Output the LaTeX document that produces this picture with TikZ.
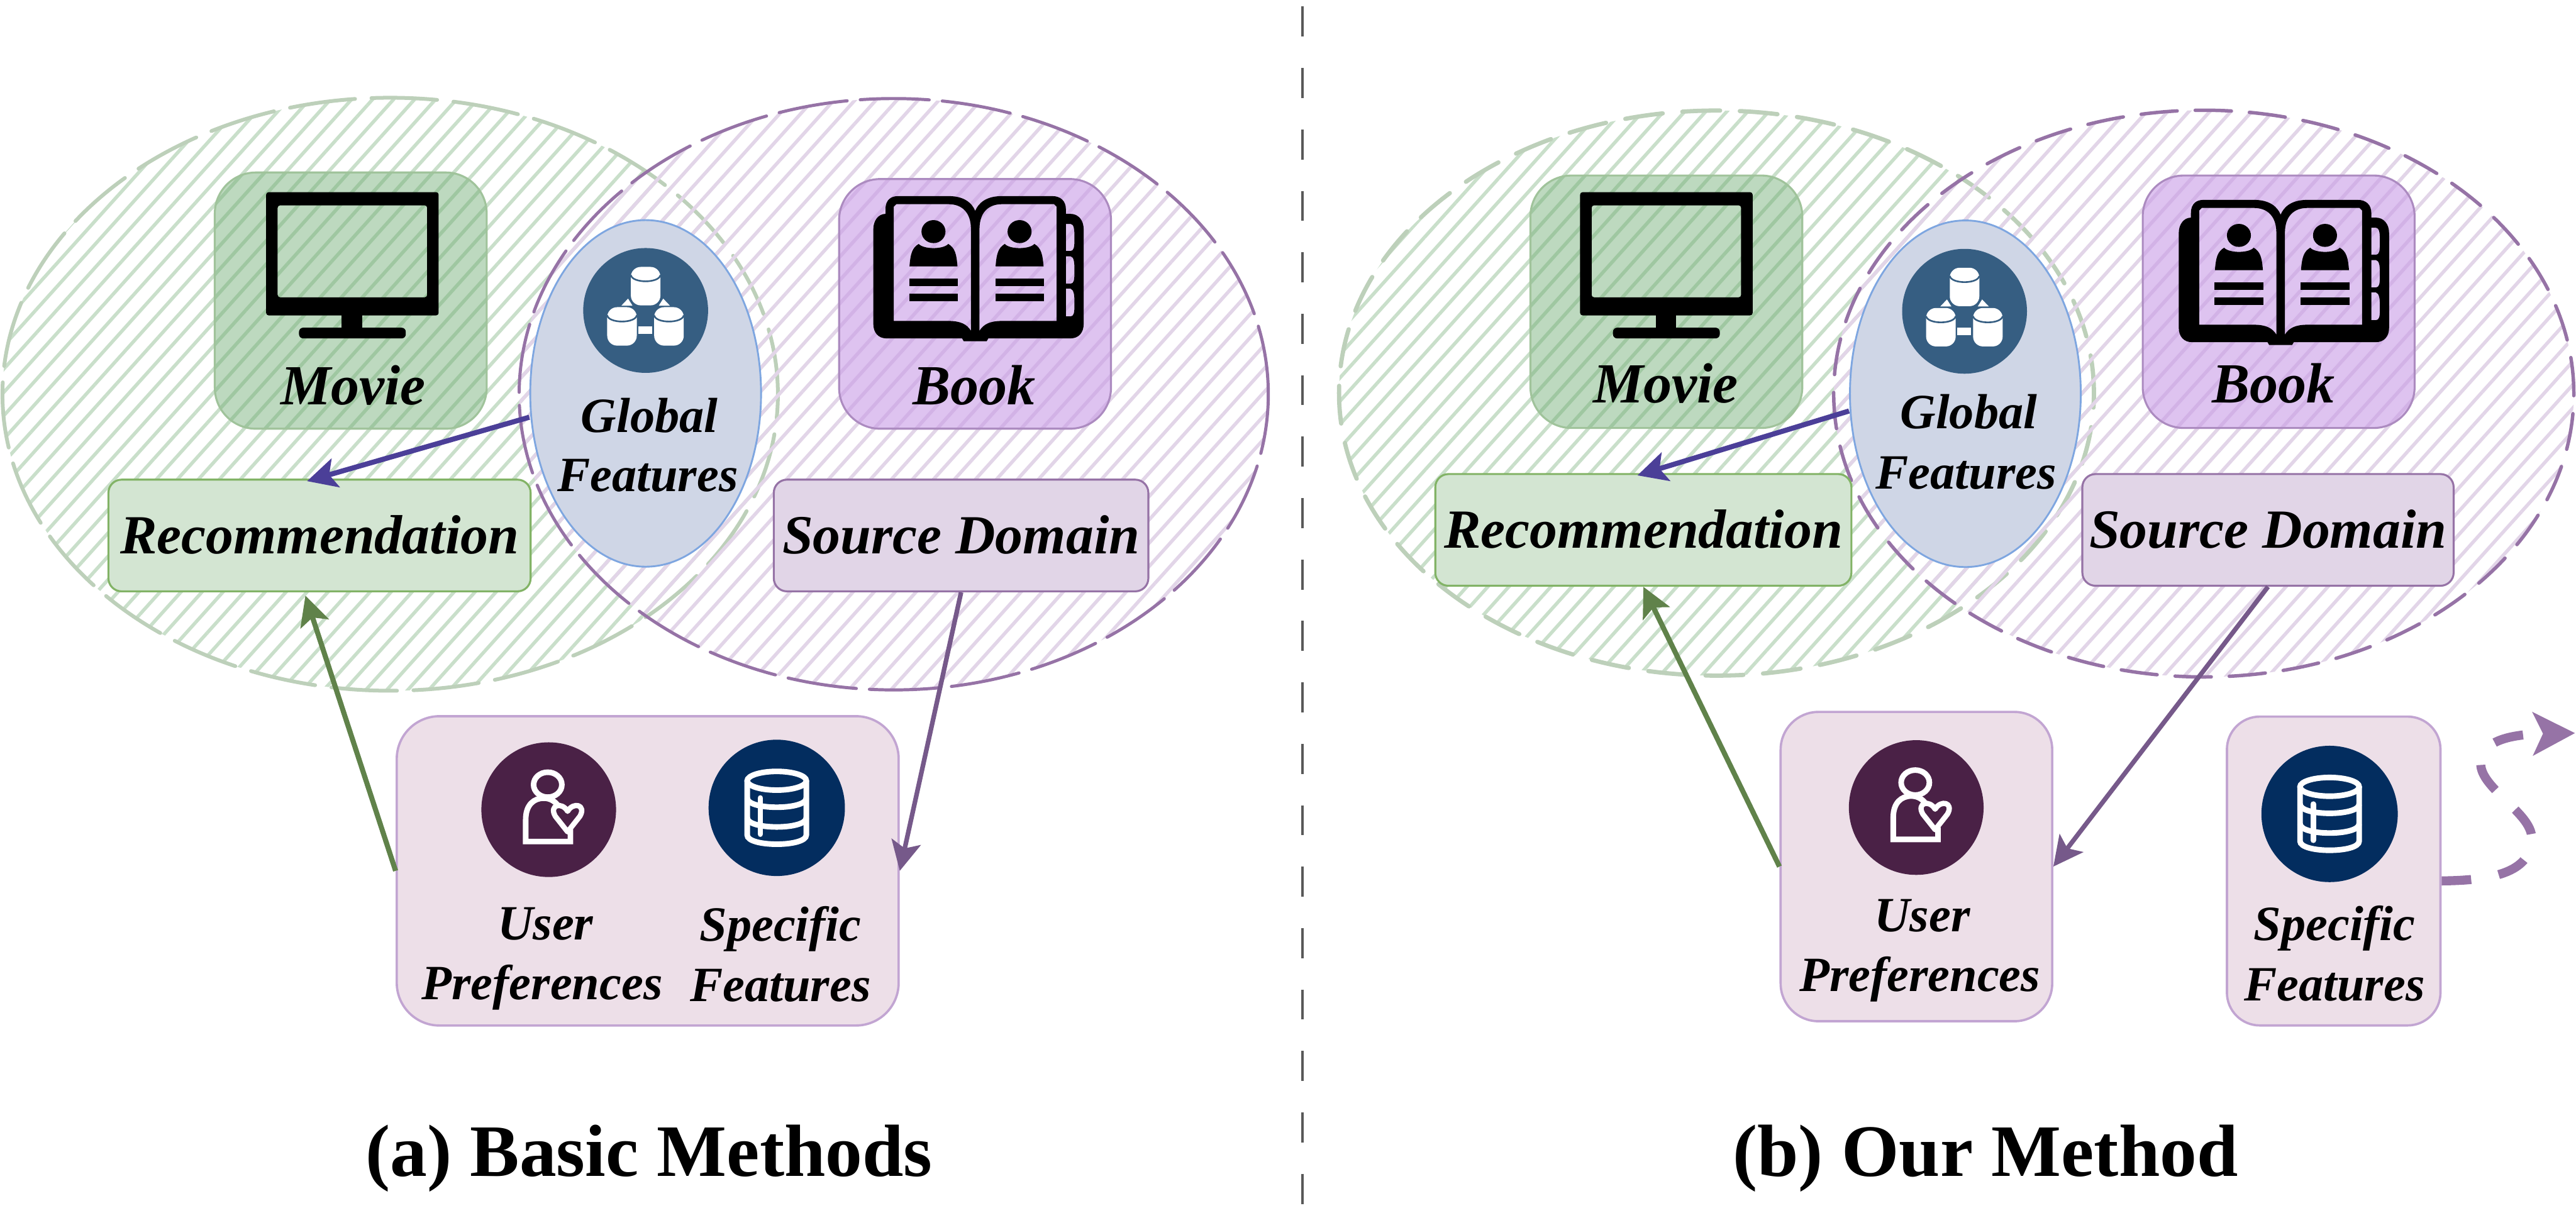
\documentclass[tikz,border=0pt]{standalone}
\usepackage{fontspec}
\setmainfont{Liberation Serif}
\usetikzlibrary{arrows.meta,patterns.meta,shapes.geometric}

\definecolor{hatchgreen}{HTML}{C9DFCA}
\definecolor{hatchpurple}{HTML}{E2D5E8}
\definecolor{edgegreen}{HTML}{BDD0BA}
\definecolor{edgepurple}{HTML}{9673A6}
\definecolor{arrowblue}{HTML}{4B3F98}
\definecolor{arrowgreen}{HTML}{60824A}
\definecolor{arrowpurple}{HTML}{76598A}
\definecolor{iconglobal}{HTML}{365E82}
\definecolor{iconuser}{HTML}{4A2146}
\definecolor{icondata}{HTML}{032D5F}
\definecolor{featedge}{HTML}{C2A5D2}
\definecolor{featfill}{HTML}{EDDFE8}
\definecolor{globaledge}{HTML}{7EA6E0}
\definecolor{globalfill}{HTML}{CFD6E6}
\definecolor{moviefill}{RGB}{109,171,113}
\definecolor{movieedge}{RGB}{160,195,155}
\definecolor{bookfill}{RGB}{200,155,230}
\definecolor{bookedge}{RGB}{172,139,192}
\definecolor{recfill}{RGB}{211,229,210}
\definecolor{recedge}{RGB}{130,179,102}
\definecolor{sourcefill}{RGB}{225,213,231}

\tikzset{
	domainlines/.style={ellipse, inner sep=0pt, line cap=round, pattern={Lines[angle=48,distance=9.5pt,line width=2.1pt]}},
	greenarea/.style={domainlines, pattern color=hatchgreen, draw=edgegreen},
	purplearea/.style={domainlines, pattern color=hatchpurple, draw=edgepurple},
	moviebox/.style={rectangle, rounded corners=25pt, inner sep=0pt, minimum width=165.5pt, fill=moviefill, fill opacity=0.45, draw=movieedge, line width=1.2pt},
	bookbox/.style={rectangle, rounded corners=25pt, inner sep=0pt, minimum width=165.5pt, fill=bookfill, fill opacity=0.6, draw=bookedge, line width=1.2pt},
	wordbox/.style={rectangle, rounded corners=8pt, inner sep=0pt, minimum height=68pt, line width=1.2pt, font=\fontsize{33.6}{40}\selectfont\bfseries\itshape, text height=22pt, text depth=0pt},
	recbox/.style={wordbox, draw=recedge, fill=recfill},
	sourcebox/.style={wordbox, draw=edgepurple, fill=sourcefill},
	featbox/.style={rectangle, inner sep=0pt, draw=featedge, fill=featfill, line width=1.4pt},
	globalbubble/.style={ellipse, inner sep=0pt, minimum width=140.5pt, minimum height=211pt, draw=globaledge, fill=globalfill, line width=1.1pt},
	tiletext/.style={anchor=base, inner sep=0pt, font=\fontsize{34.5}{40}\selectfont\bfseries\itshape},
	smalltext/.style={anchor=base, inner sep=0pt, font=\fontsize{30}{36}\selectfont\bfseries\itshape},
	captiontext/.style={anchor=base, inner sep=0pt, font=\fontsize{45}{54}\selectfont\bfseries},
	flowline/.style={-{Stealth[length=18pt,width=18pt,inset=4pt]}, line width=3.1pt},
	monitoricon/.pic={
		\fill[even odd rule] [rounded corners=1.5pt] (0,0) rectangle (105,75) (7,8) rectangle (98,64);
		\fill (46,74) rectangle (58.5,84);
		\fill[rounded corners=2.5pt] (20,82.5) rectangle (85,89);
	},
	bookicon/.pic={
		\fill[even odd rule] (7.4,10.8) -- (7.4,8) .. controls (7.4,2) and (11,0) .. (15,0) -- (46,0) .. controls (55,0) and (60,4) .. (62,9) .. controls (64,4) and (69,0) .. (78,0) -- (109,0) .. controls (114,0) and (117.2,3) .. (117.2,8) -- (117.2,10.8) -- (120,10.8) .. controls (125,10.8) and (128,15) .. (128,20) -- (128,78) .. controls (128,83) and (125,86.6) .. (120,86.6) -- (70,86.6) -- (69,88.3) -- (55,88.3) -- (54,86.6) -- (8,86.6) .. controls (3,86.6) and (0,83) .. (0,78) -- (0,20) .. controls (0,15) and (3,10.8) .. (7.4,10.8) -- cycle
			(14,4.9) -- (45.8,4.9) .. controls (54,4.9) and (59.4,10) .. (59.4,20) -- (59.4,82) .. controls (57,78) and (53,76) .. (45.8,76) -- (12.4,76) -- (12.4,6.5) -- cycle
			(110,4.9) -- (78.2,4.9) .. controls (70,4.9) and (64.6,10) .. (64.6,20) -- (64.6,82) .. controls (67,78) and (71,76) .. (78.2,76) -- (111.6,76) -- (111.6,6.5) -- cycle
			(117.2,16.9) -- (120,16.9) .. controls (122,17) and (122.4,20) .. (122.4,24) -- (122.4,27) .. controls (122.4,31) and (122,33.4) .. (120,33.4) -- (117.2,33.4) -- cycle
			(117.2,36.6) -- (120,36.6) .. controls (122,37) and (122.4,40) .. (122.4,44) -- (122.4,47) .. controls (122.4,51) and (122,53.3) .. (120,53.3) -- (117.2,53.3) -- cycle
			(117.2,56.3) -- (120,56.3) .. controls (122,57) and (122.4,60) .. (122.4,64) -- (122.4,67) .. controls (122.4,71) and (122,73.2) .. (120,73.2) -- (117.2,73.2) -- cycle;
		\foreach \px in {36.6,89} {
			\fill (\px,21.6) ellipse (7.3 and 7);
			\fill (\px-14.6,42.8) .. controls (\px-14,35) and (\px-13,31.5) .. (\px-9,29.1) .. controls (\px-6,32.5) and (\px+6,32.5) .. (\px+9,29.1) .. controls (\px+13,31.5) and (\px+14,35) .. (\px+14.6,42.8) -- cycle;
			\fill (\px-14.8,50.3) rectangle (\px+14.8,54.9);
			\fill (\px-14.8,59.4) rectangle (\px+14.8,64.1);
		}
	},
	minicyl/.pic={
		\fill[white, rounded corners=6pt] (-9,0) rectangle (9,23.4);
		\draw[iconglobal, line width=1pt] (-9,5) .. controls (-8,10) and (8,10) .. (9,5);
	},
	globalicon/.pic={
		\fill[iconglobal] (0,0) circle (38);
		\fill[white] (-14.8,-2.9) -- (-10.7,-7.2) -- (-8,-2.9) -- cycle;
		\fill[white] (14.8,-2.9) -- (10.7,-7.2) -- (8,-2.9) -- cycle;
		\pic at (0,-26.5) {minicyl};
		\pic at (-14.4,-2) {minicyl};
		\pic at (14.2,-2) {minicyl};
		\fill[white] (-4.6,9.8) rectangle (4,14.4);
	},
	usericon/.pic={
		\fill[iconuser] (0,0) circle (41);
		\draw[white, line width=3.4pt] (-0.6,-15.2) ellipse (8.6 and 7.6);
		\draw[white, line width=3.4pt] (13.2,12) -- (13.2,19.4) -- (-14,19.4) -- (-14,6) .. controls (-14,-3) and (-9,-7) .. (-3,-7) .. controls (1,-7) and (4,-5) .. (6,-2);
		\draw[white, fill=iconuser, line width=3.2pt, line join=round] (11.5,13.5) -- (4,4) .. controls (0,-3) and (8,-5) .. (11.5,1) .. controls (15,-5) and (23,-3) .. (19,4) -- cycle;
	},
	dataicon/.pic={
		\fill[icondata] (0,0) circle (41.5);
		\draw[white, line width=3.4pt] (0,-16.5) ellipse (18 and 5.7);
		\draw[white, line width=3.4pt] (-18,-16.5) -- (-18,16.5) .. controls (-18,24) and (18,24) .. (18,16.5) -- (18,-16.5);
		\draw[white, line width=3.4pt] (-18,-6) .. controls (-18,1.5) and (18,1.5) .. (18,-6);
		\draw[white, line width=3.4pt] (-18,6) .. controls (-18,13.5) and (18,13.5) .. (18,6);
		\draw[white, line width=3.4pt, line cap=round] (-10,-6) -- (-10,16);
	},
}

\begin{document}
\begin{tikzpicture}[x=1pt,y=-1pt]
	\useasboundingbox (0,0) rectangle (1568,738.3);

	% basic methods
	\node[greenarea, minimum width=472pt, minimum height=361pt, line width=2.3pt, dash pattern=on 40pt off 10pt] (movieareaA) at (237.5,240) {};
	\node[purplearea, minimum width=456pt, minimum height=360pt, line width=1.9pt, dash pattern=on 42pt off 8pt] (bookareaA) at (544,240) {};

	\node[moviebox, minimum height=156pt] (movieA) at (213.5,183) {};
	\node[bookbox, minimum height=152pt] (bookA) at (593.5,185) {};
	\pic at (162,117) {monitoricon};
	\pic at (531.6,119.4) {bookicon};
	\node[tiletext] (movietextA) at (215,246.5) {Movie};
	\node[tiletext] (booktextA) at (593,246.5) {Book};

	\node[recbox, minimum width=257pt] (recA) at (194.5,326) {Recommendation};
	\node[sourcebox, minimum width=228pt] (sourceA) at (585,326) {Source Domain};

	\node[globalbubble] (globalA) at (393,239.5) {};
	\pic at (393,189) {globalicon};
	\node[smalltext] (globaltextA) at (395.3,263) {Global};
	\node[smalltext] (globalwordA) at (394.3,299) {Features};

	\node[featbox, rounded corners=26pt, minimum width=305.5pt, minimum height=188.3pt] (prefA) at (394.25,530.15) {};
	\pic at (334,492.9) {usericon};
	\pic at (472.8,491.8) {dataicon};
	\node[smalltext] (usertextA) at (332,572.2) {User};
	\node[smalltext] (prefertextA) at (330,608.6) {Preferences};
	\node[smalltext] (spectextA) at (475,573) {Specific};
	\node[smalltext] (featuretextA) at (475,609.6) {Features};

	\draw[flowline, arrowblue] ([yshift=-14.5pt]globalA.west) -- ([xshift=-7.6pt,yshift=-1.5pt]recA.north);
	\draw[flowline, arrowgreen] (prefA.west) -- ([xshift=-8.6pt,yshift=-2pt]recA.south);
	\draw[flowline, arrowpurple, line width=2.8pt] (sourceA.south) -- (prefA.east);

	\node[captiontext] (captionA) at (395,716) {(a) Basic Methods};

	% divider
	\coordinate (dividerT) at (792.8,4);
	\coordinate (dividerB) at (792.8,738.3);
	\draw[black!65, line width=1.5pt, dash pattern=on 18.3pt off 19.1pt] (dividerT) -- (dividerB);

	% our method
	\node[greenarea, minimum width=459.5pt, minimum height=344pt, line width=2.6pt, dash pattern=on 23pt off 12pt] (movieareaB) at (1044.8,239.3) {};
	\node[purplearea, minimum width=450.5pt, minimum height=345pt, line width=2.1pt, dash pattern=on 22pt off 11pt] (bookareaB) at (1341.4,239.6) {};

	\node[moviebox, minimum height=153.7pt] (movieB) at (1014.3,183.7) {};
	\node[bookbox, minimum height=153.7pt] (bookB) at (1387,183.7) {};
	\pic at (961.8,117) {monitoricon};
	\pic at (1326.2,121.7) {bookicon};
	\node[tiletext] (movietextB) at (1014,245) {Movie};
	\node[tiletext] (booktextB) at (1384,245) {Book};

	\node[recbox, minimum width=253.3pt] (recB) at (1000.3,322.6) {Recommendation};
	\node[sourcebox, minimum width=226pt] (sourceB) at (1380.5,322.6) {Source Domain};

	\node[globalbubble] (globalB) at (1196.3,239.7) {};
	\pic at (1195.8,189.5) {globalicon};
	\node[smalltext] (globaltextB) at (1198.3,261) {Global};
	\node[smalltext] (globalwordB) at (1196.8,297.5) {Features};

	\node[featbox, rounded corners=23pt, minimum width=165.3pt, minimum height=188.3pt] (userB) at (1166.5,527.55) {};
	\node[featbox, rounded corners=20pt, minimum width=130pt, minimum height=188pt] (specB) at (1420.5,530.25) {};
	\pic at (1166.4,491.6) {usericon};
	\pic at (1418,495.5) {dataicon};
	\node[smalltext] (usertextB) at (1170,567.1) {User};
	\node[smalltext] (prefertextB) at (1168.6,603.4) {Preferences};
	\node[smalltext] (spectextB) at (1421,572.6) {Specific};
	\node[smalltext] (featuretextB) at (1421,609.2) {Features};

	\draw[flowline, arrowblue] ([yshift=-10.5pt]globalB.west) -- ([xshift=-3.6pt,yshift=-1.4pt]recB.north);
	\draw[flowline, arrowgreen] (userB.west) -- (recB.south);
	\draw[flowline, arrowpurple, line width=2.8pt] (sourceB.south) -- (userB.east);

	\coordinate (leaveB) at (1567.4,446.3);
	\draw[-{Stealth[length=25.5pt,width=26pt,inset=6pt]}, edgepurple, line width=5.5pt, dash pattern=on 18pt off 17pt] ([yshift=-6pt]specB.east) .. controls (1520,536) and (1541,530) .. (1541,510) .. controls (1541,495) and (1510,480) .. (1510,465) .. controls (1510,452) and (1525,447) .. (leaveB);

	\node[captiontext] (captionB) at (1208.5,716) {(b) Our Method};
\end{tikzpicture}
\end{document}
